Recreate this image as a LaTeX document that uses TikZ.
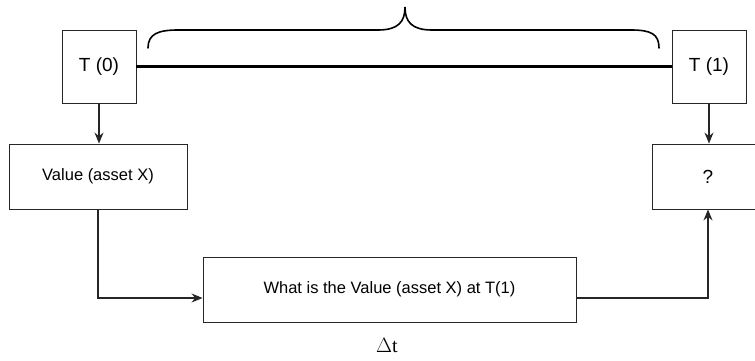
\documentclass[tikz,border=0pt]{standalone}
\usepackage{fontspec}
\setmainfont{Liberation Sans}
\newfontfamily\seriffont{Liberation Serif}
\usetikzlibrary{arrows.meta}
\begin{document}
\begin{tikzpicture}[x=1pt,y=-1pt,
  box/.style={draw=black!85, line width=0.9pt, inner sep=0pt, fill=white},
  conn/.style={draw=black!85, line width=1.1pt},
  arr/.style={conn, -{Stealth[length=11pt,width=9pt]}},
  lbl/.style={font=\fontsize{16.5}{18}\selectfont}]
\useasboundingbox[fill=white] (0,0) rectangle (755,360);
\node[box, minimum width=74pt, minimum height=73pt, font=\fontsize{19}{22}\selectfont] (t0) at (99,66.5) {T (0)};
\node[box, minimum width=74pt, minimum height=73pt, font=\fontsize{19}{22}\selectfont] (t1) at (709,66.5) {T (1)};
\node[box, minimum width=178pt, minimum height=65pt, lbl] (val) at (98,176.5) {Value (asset X)};
\node[box, minimum width=112pt, minimum height=65pt, font=\fontsize{19}{22}\selectfont] (q) at (708,176.5) {?};
\node[box, minimum width=373pt, minimum height=65pt, font=\fontsize{16.5}{18}\selectfont] (what) at (389.5,289.5) {What is the Value (asset X) at T(1)};
\node[font=\seriffont\fontsize{20}{22}\selectfont, inner sep=0pt] (dt) at (387,346) {$\Delta$t};
\coordinate (ent) at (0,298);
\draw[line width=2.4pt] (t0.east) -- (t1.west);
\draw[line width=1.6pt, line cap=round]
  (148,48) .. controls (148,34) and (158,30) .. (178,30) -- (378,30)
  .. controls (398,30) and (405,22) .. (405,7)
  .. controls (405,22) and (412,30) .. (432,30) -- (631,30)
  .. controls (651,30) and (659,34) .. (659,48);
\draw[arr] (t0.south) -- (t0.south |- val.north);
\draw[arr] (t1.south) -- (t1.south |- q.north);
\draw[arr] (val.south) |- (what.west |- ent);
\draw[arr] (what.east |- ent) -| (q.south);
\end{tikzpicture}
\end{document}
